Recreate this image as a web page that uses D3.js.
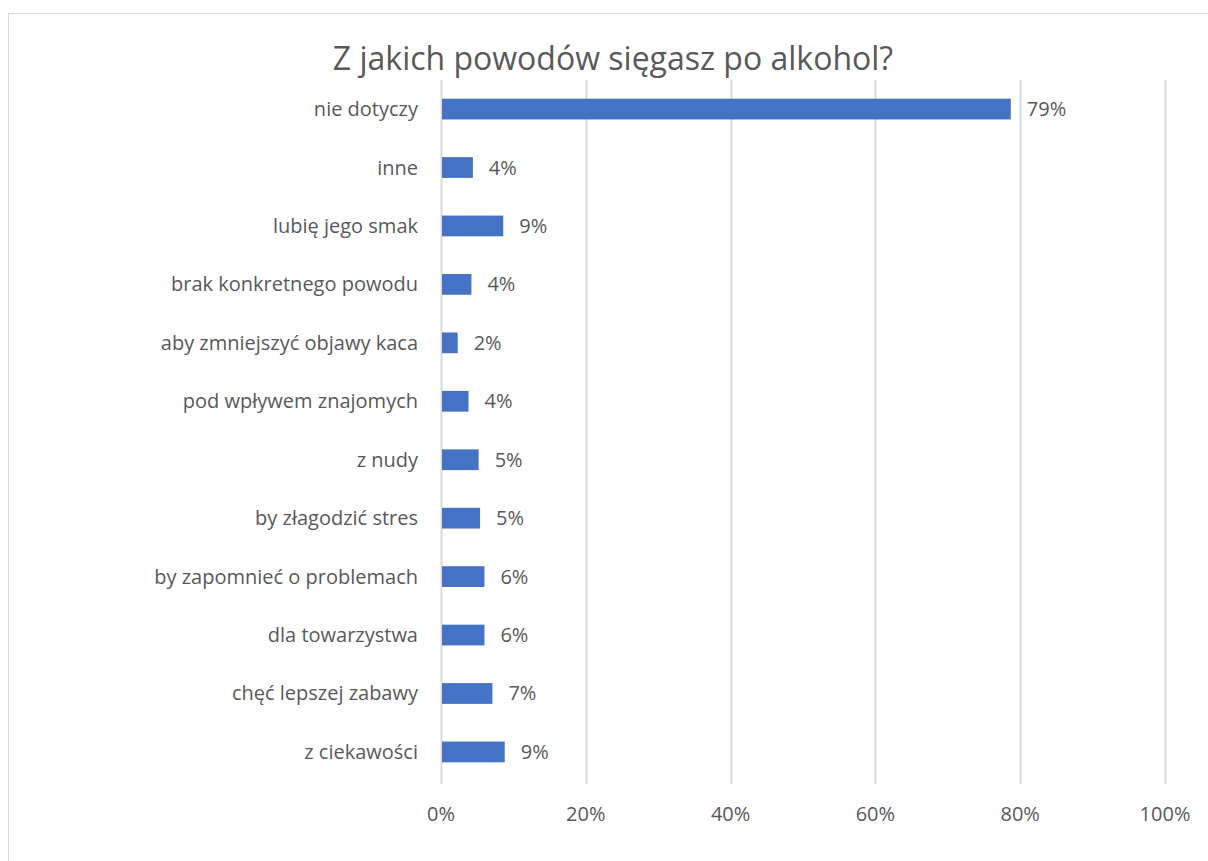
<!DOCTYPE html>
<html>
<head>
<meta charset="utf-8">
<script src="https://cdn.jsdelivr.net/npm/d3@7"></script>
<style>
  body { margin: 0; background: #fff; }
  text { font-family: "Open Sans", "Noto Sans", sans-serif; fill: #595959; }
</style>
</head>
<body>
<div id="chart"></div>
<script>
// data (share of answers)
var categories = ["nie dotyczy", "inne", "lubię jego smak", "brak konkretnego powodu",
  "aby zmniejszyć objawy kaca", "pod wpływem znajomych", "z nudy", "by złagodzić stres",
  "by zapomnieć o problemach", "dla towarzystwa", "chęć lepszej zabawy", "z ciekawości"];
var values = [0.787, 0.044, 0.086, 0.042, 0.023, 0.038, 0.052, 0.054, 0.060, 0.060, 0.071, 0.088];
var labels = ["79%", "4%", "9%", "4%", "2%", "4%", "5%", "5%", "6%", "6%", "7%", "9%"];
var ticks = [0, 0.2, 0.4, 0.6, 0.8, 1];

var W = 1208, H = 861;
var margin = {left: 441, right: 43, top: 80, bottom: 80};

var svg = d3.select("#chart").append("svg")
  .attr("width", W)
  .attr("height", H);

// chart frame
svg.append("rect")
  .attr("x", 8.5).attr("y", 13.5)
  .attr("width", W + 20).attr("height", H + 20)
  .attr("fill", "none")
  .attr("stroke", "#d9d9d9")
  .attr("stroke-width", 1);

var x = d3.scaleLinear().domain([0, 1]).range([margin.left, W - margin.right]);
var y = d3.scaleBand().domain(categories)
  .range([margin.top, H - margin.bottom])
  .paddingInner(0.645).paddingOuter(0.32);

// title
svg.append("text")
  .attr("x", 613).attr("y", 70)
  .attr("text-anchor", "middle")
  .style("font-size", "32px")
  .text("Z jakich powodów sięgasz po alkohol?");

// gridlines
svg.selectAll(".grid")
  .data(ticks)
  .enter().append("line")
  .attr("x1", function(d) { return Math.round(x(d)) + 0.5; })
  .attr("x2", function(d) { return Math.round(x(d)) + 0.5; })
  .attr("y1", margin.top)
  .attr("y2", H - margin.bottom + 3)
  .attr("stroke", "#d9d9d9")
  .attr("stroke-width", 2);

// x axis labels
svg.selectAll(".tick-label")
  .data(ticks)
  .enter().append("text")
  .attr("x", function(d) { return x(d); })
  .attr("y", 821)
  .attr("text-anchor", "middle")
  .style("font-size", "20px")
  .text(function(d) { return d3.format(".0%")(d); });

// bars
svg.selectAll(".bar")
  .data(categories)
  .enter().append("rect")
  .attr("x", x(0) + 1)
  .attr("y", function(d) { return y(d); })
  .attr("width", function(d, i) { return x(values[i]) - x(0) - 1; })
  .attr("height", y.bandwidth())
  .attr("fill", "#4472c4");

// category labels
svg.selectAll(".cat")
  .data(categories)
  .enter().append("text")
  .attr("x", x(0) - 23)
  .attr("y", function(d) { return y(d) + y.bandwidth() / 2; })
  .attr("dy", "0.35em")
  .attr("text-anchor", "end")
  .style("font-size", "20px")
  .text(function(d) { return d; });

// value labels
svg.selectAll(".val")
  .data(categories)
  .enter().append("text")
  .attr("x", function(d, i) { return x(values[i]) + 16; })
  .attr("y", function(d) { return y(d) + y.bandwidth() / 2; })
  .attr("dy", "0.35em")
  .style("font-size", "20px")
  .text(function(d, i) { return labels[i]; });
</script>
</body>
</html>
